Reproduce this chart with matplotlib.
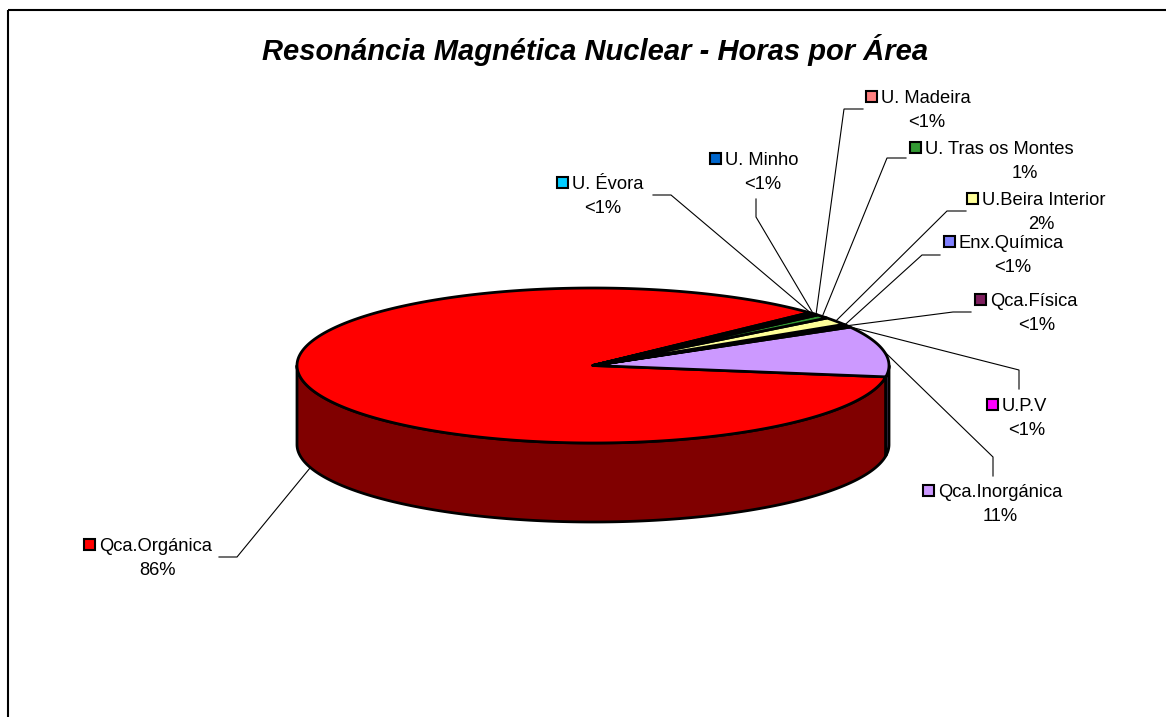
import numpy as np
import matplotlib.pyplot as plt
from matplotlib.patches import Polygon, Rectangle

plt.rcParams['font.family'] = ['Liberation Sans', 'DejaVu Sans']

# data, in drawing order (counter-clockwise from the start angle)
areas = ['Qca.Orgánica', 'Qca.Inorgánica', 'U.P.V', 'Qca.Física', 'Enx.Química',
         'U.Beira Interior', 'U. Tras os Montes', 'U. Madeira', 'U. Minho', 'U. Évora']
hours = [1716, 212, 4, 5, 4, 32, 16, 5, 4, 4]
colors = ['#FF0000', '#CC99FF', '#FF00FF', '#7F1F5F', '#8080FF',
          '#FFFF99', '#339933', '#FF8080', '#0066CC', '#00CCFF']

# label layout (pixels): square left x, name baseline, percent centre x, leader elbow, leader end
label_layout = {
    'Qca.Orgánica':      (84, 551, 157, (237, 557), (219, 557)),
    'Qca.Inorgánica':    (923, 497, 1000, (993, 457), (993, 476)),
    'U.P.V':             (987, 411, 1027, (1019, 370), (1019, 389)),
    'Qca.Física':        (975, 306, 1037, (953, 312), (971, 312)),
    'Enx.Química':       (944, 248, 1013, (922, 255), (940, 255)),
    'U.Beira Interior':  (967, 205, 1041, (947, 211), (966, 211)),
    'U. Tras os Montes': (910, 154, 1025, (887, 158), (906, 158)),
    'U. Madeira':        (866, 103, 927, (844, 109), (863, 109)),
    'U. Minho':          (710, 165, 763, (756, 217), (756, 199)),
    'U. Évora':          (557, 189, 603, (671, 195), (653, 195)),
}

# pie geometry in pixels
CX, CY, RX, RY, DEPTH = 593, 365.5, 296, 77.5, 79
START = 43


def pt(theta, dz=0.0):
    t = np.radians(theta)
    return CX + RX * np.cos(t), CY - RY * np.sin(t) + dz


def arc(t0, t1, dz=0.0):
    n = max(3, int(abs(t1 - t0) * 2) + 2)
    th = np.linspace(t0, t1, n)
    x, y = pt(th, dz)
    return np.column_stack([x, y])


def darker(c, f=0.5):
    c = c.lstrip('#')
    rgb = [int(c[i:i + 2], 16) / 255 for i in (0, 2, 4)]
    return tuple(v * f for v in rgb)


fig = plt.figure(figsize=(11.66, 7.17), dpi=100)
ax = fig.add_axes([0, 0, 1, 1])
ax.set_xlim(0, 1166)
ax.set_ylim(717, 0)
ax.axis('off')

# outer frame
ax.add_patch(Rectangle((8, 10), 1300, 900, fill=False, edgecolor='black', lw=1.5))

total = float(sum(hours))
spans = [h / total * 360 for h in hours]
bounds = START + np.concatenate([[0], np.cumsum(spans)])

# side walls (front half only)
for i, col in enumerate(colors):
    s, e = bounds[i], bounds[i + 1]
    for lo, hi in [(180, 360), (540, 720)]:
        a0, a1 = max(s, lo), min(e, hi)
        if a1 > a0:
            poly = np.vstack([arc(a0, a1), arc(a1, a0, DEPTH)])
            ax.add_patch(Polygon(poly, closed=True, facecolor=darker(col),
                                 edgecolor='black', lw=2.0, joinstyle='round'))

# top faces
for i, col in enumerate(colors):
    s, e = bounds[i], bounds[i + 1]
    poly = np.vstack([[CX, CY], arc(s, e)])
    ax.add_patch(Polygon(poly, closed=True, facecolor=col,
                         edgecolor='black', lw=2.0, joinstyle='round'))

# labels with leader lines
for i, name in enumerate(areas):
    sq_x, base, pct_x, elbow, end = label_layout[name]
    mid = (bounds[i] + bounds[i + 1]) / 2
    dz = DEPTH if np.sin(np.radians(mid)) < 0 else 0
    ax_, ay_ = pt(mid, dz)
    ax.plot([ax_, elbow[0], end[0]], [ay_, elbow[1], end[1]],
            color='black', lw=0.8, solid_joinstyle='miter')

    pct = hours[i] / total * 100
    pct_txt = '<1%' if int(pct + 0.5) < 1 else f'{int(pct + 0.5)}%'
    ax.add_patch(Rectangle((sq_x, base - 12), 11, 11, facecolor=colors[i],
                           edgecolor='black', lw=1.5))
    ax.text(sq_x + 15, base, name, fontsize=13.2, ha='left', va='baseline')
    ax.text(pct_x, base + 24, pct_txt, fontsize=13.2, ha='center', va='baseline')

ax.text(595, 60, 'Resonáncia Magnética Nuclear - Horas por Área',
        fontsize=21, fontweight='bold', fontstyle='italic',
        ha='center', va='baseline')

fig.savefig('out.png', dpi=100)
